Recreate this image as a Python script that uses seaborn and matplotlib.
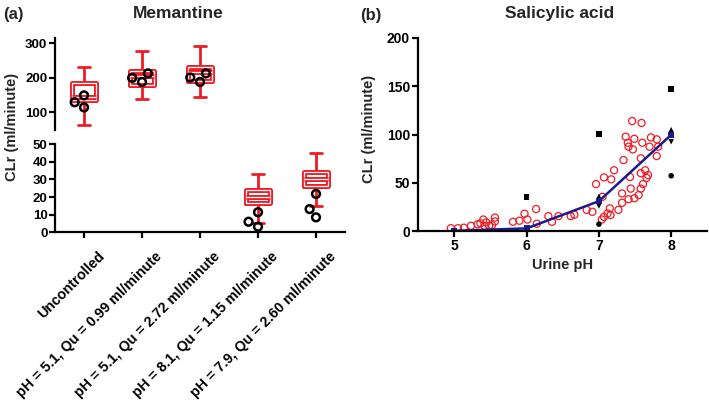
import pandas as pd
import seaborn as sns
import matplotlib.pyplot as plt
from matplotlib.transforms import ScaledTranslation

# ---------------------------------------------------------------
# data
# ---------------------------------------------------------------
groups = ['Uncontrolled',
          'pH = 5.1, Qu = 0.99 ml/minute',
          'pH = 5.1, Qu = 2.72 ml/minute',
          'pH = 8.1, Qu = 1.15 ml/minute',
          'pH = 7.9, Qu = 2.60 ml/minute']

# box summaries (simulated): lower whisker, q1, median, q3, upper whisker
box_low = [62, 137, 143, 5.5, 15.1]
box_q1 = [135, 179, 191, 16.5, 26.3]
box_med = [145, 206, 216, 20.2, 30.3]
box_q3 = [184, 220, 232, 24.0, 34.4]
box_high = [232, 279, 293, 33.0, 45.2]

# observed CLr (black circles)
obs_uncontrolled = [114, 149, 129]
obs_ph51_099 = [213, 188, 200]
obs_ph51_272 = [213, 188, 201]
obs_ph81_115 = [11.4, 6.0, 3.2]
obs_ph79_260 = [21.8, 13.2, 8.5]

# salicylic acid: observed (red open circles)
sal_ph = [4.95, 5.05, 5.13, 5.23, 5.32, 5.36, 5.40, 5.44, 5.48, 5.52, 5.56, 5.56, 5.42,
          5.81, 5.90, 5.97, 6.01, 6.13, 6.14, 6.30, 6.35, 6.44, 6.61, 6.66, 6.83, 6.91,
          6.96, 7.07, 7.17, 7.21, 7.05, 7.07, 7.12, 7.16, 7.15, 7.27, 7.32, 7.32, 7.41,
          7.44, 7.49, 7.55, 7.43, 7.58, 7.64, 7.68, 7.61, 7.66, 7.58, 7.34, 7.58, 7.80,
          7.37, 7.40, 7.41, 7.47, 7.49, 7.60, 7.72, 7.80, 7.82, 7.70, 7.46, 7.59, 7.04]
sal_clr = [3, 3, 3.5, 5.5, 7, 8, 12, 9, 5.5, 6, 14, 10, 5,
           9.6, 10.7, 18, 12, 22.8, 7.6, 15.5, 9.6, 15.5, 15.5, 17, 22, 20,
           48.7, 55.6, 53.6, 63, 35.5, 14.8, 18.3, 16.6, 23.5, 22, 29.3, 39, 33,
           44, 34, 37.3, 56, 60, 63, 58, 48.7, 55, 44, 73.6, 75.4, 77.7,
           97.7, 91.5, 87.4, 84.6, 95.6, 91.5, 97, 95, 87.4, 87.4, 114, 112, 12]

# salicylic acid: predicted mean (blue line)
pred_ph = [5, 6, 7, 8]
pred_clr = [0.3, 2.8, 31, 99.7]

# salicylic acid: other predictions (black symbols)
other_ph = [6, 7, 7, 7, 7, 8, 8, 8, 8]
other_clr = [35.5, 100.5, 7.2, 36, 26, 147, 57.3, 105, 92.5]
other_kind = ['square', 'square', 'circle', 'up', 'down',
              'square', 'circle', 'up', 'down']

# ---------------------------------------------------------------
# tables
# ---------------------------------------------------------------
box_rows = []
for i, g in enumerate(groups):
    for v in (box_low[i], box_q1[i], box_med[i], box_q3[i], box_high[i]):
        box_rows.append((g, v))
box_df = pd.DataFrame(box_rows, columns=['group', 'clr'])

obs_lists = [obs_uncontrolled, obs_ph51_099, obs_ph51_272, obs_ph81_115, obs_ph79_260]
obs_df = pd.DataFrame([(g, v) for g, vals in zip(groups, obs_lists) for v in vals],
                      columns=['group', 'clr'])

top_groups = groups[:3]
bot_groups = groups[3:]

# ---------------------------------------------------------------
# style
# ---------------------------------------------------------------
sns.set_style('ticks')
plt.rcParams['font.family'] = ['Liberation Sans', 'DejaVu Sans']
plt.rcParams['font.weight'] = 'bold'
plt.rcParams['axes.linewidth'] = 1.6
plt.rcParams['xtick.major.width'] = 1.6
plt.rcParams['ytick.major.width'] = 1.6
plt.rcParams['xtick.major.size'] = 4
plt.rcParams['ytick.major.size'] = 4
plt.rcParams['xtick.color'] = 'black'
plt.rcParams['ytick.color'] = 'black'
plt.rcParams['axes.edgecolor'] = 'black'

RED = '#ee1c25'
NAVY = '#1e1a8c'

fig = plt.figure(figsize=(7.09, 4.04), dpi=100)
ax_top = fig.add_axes([0.0776, 0.678, 0.409, 0.228])
ax_bot = fig.add_axes([0.0776, 0.425, 0.409, 0.218])
ax_sal = fig.add_axes([0.590, 0.428, 0.4076, 0.478])


def draw_boxes(ax, data):
    kws = dict(data=data, x='group', y='clr', order=groups, width=0.4,
               whis=(0, 100), fill=False, ax=ax)
    sns.boxplot(color=RED, linewidth=3.6,
                whiskerprops={'linewidth': 2.0}, capprops={'linewidth': 2.0}, **kws)
    sns.boxplot(color='white', linewidth=0.9,
                whiskerprops={'visible': False}, capprops={'visible': False}, **kws)


def draw_obs(ax, data):
    n0 = len(ax.collections)
    sns.swarmplot(data=data, x='group', y='clr', order=groups, size=5.6,
                  color='black', linewidth=1.8, ax=ax)
    for coll in ax.collections[n0:]:
        coll.set_facecolor('none')
        coll.set_edgecolor('black')


draw_boxes(ax_top, box_df[box_df['group'].isin(top_groups)])
draw_obs(ax_top, obs_df[obs_df['group'].isin(top_groups)])
draw_boxes(ax_bot, box_df[box_df['group'].isin(bot_groups)])
draw_obs(ax_bot, obs_df[obs_df['group'].isin(bot_groups)])

for ax in (ax_top, ax_bot):
    ax.set_xlim(-0.5, 4.5)
    ax.set_xlabel('')
    ax.set_ylabel('')
    for s in ('top', 'right'):
        ax.spines[s].set_visible(False)
    ax.tick_params(labelsize=9.5, pad=1.5)

ax_top.set_ylim(48, 316)
ax_top.set_yticks([100, 200, 300])
ax_top.spines['bottom'].set_visible(False)
ax_top.set_xticks([])

ax_bot.set_ylim(0, 50)
ax_bot.set_yticks([0, 10, 20, 30, 40, 50])
ax_bot.set_xticks(range(len(groups)))
ax_bot.set_xticklabels(groups, rotation=45, ha='right', rotation_mode='anchor',
                       fontsize=10.3, fontweight='bold')
# nudge the slanted labels so they end just right of / below each tick
shift = ScaledTranslation(13 / 100, -9 / 100, fig.dpi_scale_trans)
for lab in ax_bot.get_xticklabels():
    lab.set_transform(lab.get_transform() + shift)

fig.text(0.017, 0.686, 'CLr (ml/minute)', rotation=90, ha='center', va='center',
         fontsize=10.5, fontweight='bold')
fig.text(0.004, 0.965, '(a)', ha='left', va='center', fontsize=12, fontweight='bold')
fig.text(0.251, 0.967, 'Memantine', ha='center', va='center', fontsize=12.5,
         fontweight='bold')

# ---------------------------------------------------------------
# salicylic acid panel
# ---------------------------------------------------------------
sns.scatterplot(x=sal_ph, y=sal_clr, marker='o', s=26, linewidth=0.9, ax=ax_sal)
sal_coll = ax_sal.collections[-1]
sal_coll.set_facecolor('none')
sal_coll.set_edgecolor(RED)

sns.scatterplot(x=other_ph, y=other_clr, style=other_kind,
                markers={'square': 's', 'circle': 'o', 'up': '^', 'down': 'v'},
                color='black', s=16, linewidth=0, legend=False, ax=ax_sal)

sns.lineplot(x=pred_ph, y=pred_clr, color=NAVY, linewidth=1.8, marker='s',
             markersize=5, markeredgewidth=0, ax=ax_sal)

ax_sal.set_xlim(4.5, 8.5)
ax_sal.set_ylim(0, 200)
ax_sal.set_xticks([5, 6, 7, 8])
ax_sal.set_yticks([0, 50, 100, 150, 200])
for s in ('top', 'right'):
    ax_sal.spines[s].set_visible(False)
ax_sal.tick_params(labelsize=10, pad=2)
ax_sal.set_xlabel('Urine pH', fontsize=10.5, fontweight='bold', labelpad=3)
ax_sal.set_ylabel('')
fig.text(0.521, 0.68, 'CLr (ml/minute)', rotation=90, ha='center', va='center',
         fontsize=10.5, fontweight='bold')
fig.text(0.508, 0.962, '(b)', ha='left', va='center', fontsize=12, fontweight='bold')
fig.text(0.789, 0.967, 'Salicylic acid', ha='center', va='center', fontsize=12.5,
         fontweight='bold')

fig.savefig('out.png', dpi=100)
